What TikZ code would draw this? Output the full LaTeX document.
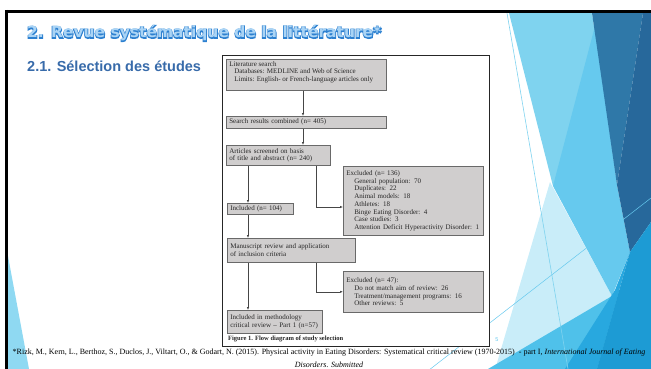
\documentclass[tikz,border=0pt]{standalone}
\usepackage{fontspec}
\setmainfont{Liberation Serif}
\setsansfont{Liberation Sans}
\newfontfamily\titlefont{DejaVu Sans Bold}
\newfontfamily\titleedgefont{DejaVu Sans Bold}[FakeBold=10]
\usetikzlibrary{arrows.meta}

\definecolor{boxfill}{RGB}{208,206,206}
\definecolor{boxline}{RGB}{105,105,105}
\definecolor{arrowgray}{RGB}{70,70,70}
\definecolor{titleedge}{RGB}{44,128,208}
\definecolor{titleface}{RGB}{170,212,245}
\definecolor{subtitleblue}{RGB}{56,107,170}
\definecolor{facetlight}{RGB}{127,211,239}
\definecolor{facetmid}{RGB}{102,201,238}
\definecolor{facetpale}{RGB}{201,237,249}
\definecolor{facetsky}{RGB}{79,193,234}
\definecolor{facetsea}{RGB}{40,168,223}
\definecolor{facetdeep}{RGB}{29,155,212}
\definecolor{facetsteel}{RGB}{47,120,168}
\definecolor{facetnavy}{RGB}{39,104,155}
\definecolor{facetleft}{RGB}{143,217,242}

\tikzset{
  flowbox/.style={draw=boxline, fill=boxfill, line width=0.6pt, anchor=north west,
    inner xsep=3pt, inner ysep=2pt, align=left, text=black!85,
    font=\fontsize{7}{7.7}\selectfont},
  flowarrow/.style={draw=arrowgray, line width=0.55pt, -{Latex[length=2.8pt,width=2.2pt]}},
  facetline/.style={line width=0.6pt}
}

\begin{document}
\begin{tikzpicture}[x=1pt, y=-1pt]
\useasboundingbox (0,0) rectangle (651,369);
\clip (0,0) rectangle (651,369);

% facets on the right
\fill[facetlight] (509,13) -- (592,13) -- (617,185) -- (553,186) -- cycle;
\fill[facetpale] (550,182) -- (625,320) -- (492,380) -- cycle;
\fill[facetmid] (595,26) -- (617,185) -- (630,252) -- (612,296) -- (553,186) -- cycle;
\fill[facetsteel] (592,13) -- (643,13) -- (617,185) -- cycle;
\fill[facetnavy] (643,13) -- (651,13) -- (651,222) -- (630,252) -- (617,185) -- cycle;
\fill[facetsky] (488,369) -- (612,296) -- (651,272) -- (651,369) -- cycle;
\fill[facetsea] (565,369) -- (615,290) -- (630,252) -- (597,369) -- cycle;
\fill[facetdeep] (597,369) -- (630,252) -- (651,222) -- (651,369) -- cycle;
\draw[facetline, facetlight] (507,13) -- (568,369);
\draw[facetline, facetmid, line width=0.5pt] (420,377) -- (651,198);
\fill[facetleft] (5,240) -- (5,369) -- (29,369) -- cycle;

% slide border
\draw[line width=3pt] (5,11.5) -- (651,11.5);
\draw[line width=3pt] (6.5,10) -- (6.5,369);

% headings
\node[anchor=base west, inner sep=0, text=titleedge,
  font=\titleedgefont\fontsize{15.5}{18}\selectfont] (titleback) at (27,38)
  {2. Revue systématique de la littérature*};
\node[anchor=base west, inner sep=0, text=titleface,
  font=\titlefont\fontsize{15.5}{18}\selectfont] (title) at (titleback.base west)
  {2. Revue systématique de la littérature*};
\node[anchor=base west, inner sep=0, text=subtitleblue,
  font=\sffamily\bfseries\fontsize{14.5}{16}\selectfont] (subtitle) at (27,72)
  {2.1. Sélection des études};

% figure
\draw[black!85, fill=white, line width=0.8pt] (222,55) rectangle (489,346);

\node[flowbox] (search) at (226,59)
  {\parbox[t][27pt][t]{154pt}{Literature search\\
   \hspace*{5pt}Databases: MEDLINE and Web of Science\\
   \hspace*{5pt}Limits: English- or French-language articles only}};
\node[flowbox, text width=154pt, minimum height=12pt] (combined) at (226,116)
  {Search results combined (n= 405)};
\node[flowbox, text width=98pt, minimum height=20pt] (screened) at (226,145)
  {Articles screened on basis\\ of title and abstract (n= 240)};
\node[flowbox, text width=60pt, minimum height=11pt] (included) at (227,203)
  {Included (n= 104)};
\node[flowbox, text width=134pt, minimum height=69pt] (excludedA) at (343,166)
  {Excluded (n= 136)\\
   \hspace*{8pt}General population: 70\\
   \hspace*{8pt}Duplicates: 22\\
   \hspace*{8pt}Animal models: 18\\
   \hspace*{8pt}Athletes: 18\\
   \hspace*{8pt}Binge Eating Disorder: 4\\
   \hspace*{8pt}Case studies: 3\\
   \hspace*{8pt}Attention Deficit Hyperactivity Disorder: 1};
\node[flowbox, text width=122pt, minimum height=24pt] (manuscript) at (227,238)
  {Manuscript review and application\\ of inclusion criteria};
\node[flowbox, text width=134pt, minimum height=41pt] (excludedB) at (343,271)
  {Excluded (n= 47):\\
   \hspace*{8pt}Do not match aim of review: 26\\
   \hspace*{8pt}Treatment/management programs: 16\\
   \hspace*{8pt}Other reviews: 5};
\node[flowbox, text width=89pt, minimum height=23pt] (review) at (227,310)
  {Included in methodology\\ critical review -- Part 1 (n=57)};

\coordinate (spine) at (303,0);
\coordinate (trunk) at (248,0);
\coordinate (turnA) at (316,207);

\draw[flowarrow] (spine |- search.south) -- (spine |- combined.north);
\draw[flowarrow] (spine |- combined.south) -- (spine |- screened.north);
\draw[flowarrow] (trunk |- screened.south) -- (trunk |- included.north);
\draw[flowarrow] (turnA |- screened.south) |- (excludedA.west |- turnA);
\draw[flowarrow] (trunk |- included.south) -- (trunk |- manuscript.north);
\draw[flowarrow] (turnA |- manuscript.south) |- (excludedB.west);
\draw[flowarrow] (trunk |- manuscript.south) -- (trunk |- review.north);

\node[anchor=base west, inner sep=0, font=\bfseries\fontsize{6.5}{7}\selectfont,
  text=black!85] (caption) at (228,340) {Figure 1. Flow diagram of study selection};

\node[anchor=base, inner sep=0, text=facetmid, font=\sffamily\fontsize{5.5}{6}\selectfont]
  (page) at (497,341) {5};

% reference
\node[anchor=base, inner sep=0, align=center, font=\fontsize{8}{13}\selectfont]
  (citation) at (329,367.5)
  {*Rizk, M., Kern, L., Berthoz, S., Duclos, J., Viltart, O., \& Godart, N. (2015). Physical activity in Eating Disorders: Systematical critical review (1970-2015) \ - part I, \textit{International Journal of Eating}\\
   \textit{Disorders. Submitted}};
\end{tikzpicture}
\end{document}
